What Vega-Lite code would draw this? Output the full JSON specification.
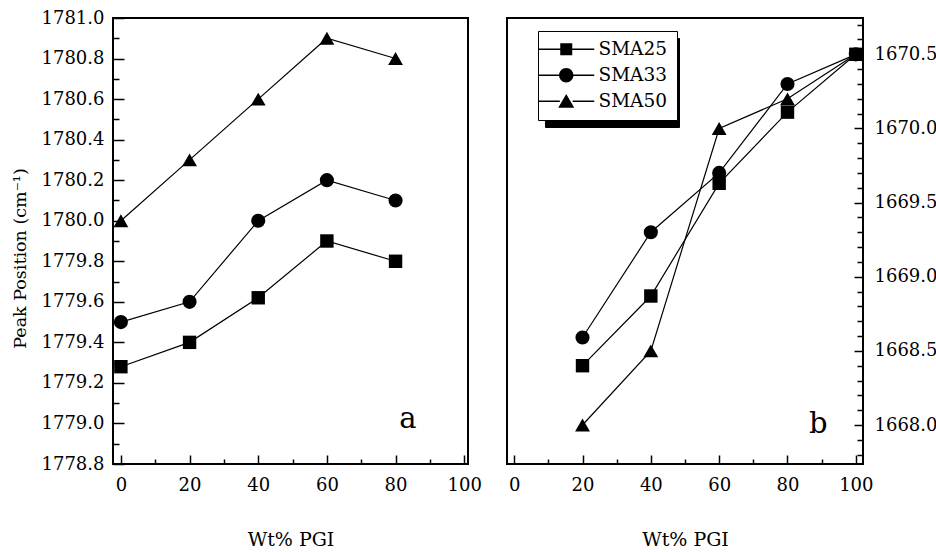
{
  "$schema": "https://vega.github.io/schema/vega-lite/v6.json",
  "padding": {"left": 10, "top": 8, "right": 0, "bottom": 0},
  "background": "white",
  "datasets": {
    "panelA": [
      {"series": "SMA25", "wt": 0, "pos": 1779.28},
      {"series": "SMA25", "wt": 20, "pos": 1779.40},
      {"series": "SMA25", "wt": 40, "pos": 1779.62},
      {"series": "SMA25", "wt": 60, "pos": 1779.90},
      {"series": "SMA25", "wt": 80, "pos": 1779.80},
      {"series": "SMA33", "wt": 0, "pos": 1779.50},
      {"series": "SMA33", "wt": 20, "pos": 1779.60},
      {"series": "SMA33", "wt": 40, "pos": 1780.00},
      {"series": "SMA33", "wt": 60, "pos": 1780.20},
      {"series": "SMA33", "wt": 80, "pos": 1780.10},
      {"series": "SMA50", "wt": 0, "pos": 1780.00},
      {"series": "SMA50", "wt": 20, "pos": 1780.30},
      {"series": "SMA50", "wt": 40, "pos": 1780.60},
      {"series": "SMA50", "wt": 60, "pos": 1780.90},
      {"series": "SMA50", "wt": 80, "pos": 1780.80}
    ],
    "panelB": [
      {"series": "SMA25", "wt": 20, "pos": 1668.40},
      {"series": "SMA25", "wt": 40, "pos": 1668.87},
      {"series": "SMA25", "wt": 60, "pos": 1669.63},
      {"series": "SMA25", "wt": 80, "pos": 1670.11},
      {"series": "SMA25", "wt": 100, "pos": 1670.50},
      {"series": "SMA33", "wt": 20, "pos": 1668.59},
      {"series": "SMA33", "wt": 40, "pos": 1669.30},
      {"series": "SMA33", "wt": 60, "pos": 1669.70},
      {"series": "SMA33", "wt": 80, "pos": 1670.30},
      {"series": "SMA33", "wt": 100, "pos": 1670.50},
      {"series": "SMA50", "wt": 20, "pos": 1668.00},
      {"series": "SMA50", "wt": 40, "pos": 1668.50},
      {"series": "SMA50", "wt": 60, "pos": 1670.00},
      {"series": "SMA50", "wt": 80, "pos": 1670.20},
      {"series": "SMA50", "wt": 100, "pos": 1670.50}
    ],
    "labelA": [{"label": "a"}],
    "labelB": [{"label": "b"}]
  },
  "spacing": 39,
  "bounds": "flush",
  "hconcat": [
    {
      "width": 355,
      "height": 446,
      "layer": [
        {
          "data": {"name": "panelA"},
          "mark": {"type": "line", "color": "black", "strokeWidth": 1.2},
          "encoding": {
            "x": {
              "field": "wt", "type": "quantitative",
              "scale": {"domain": [-2.3, 101.1], "nice": false, "zero": false},
              "axis": {"title": "Wt% PGI", "values": [0, 10, 20, 30, 40, 50, 60, 70, 80, 90, 100], "labelExpr": "datum.value % 20 == 0 ? datum.label : ''", "tickSize": {"condition": {"test": "datum.value % 20 == 0", "value": -9}, "value": -5}, "labelPadding": 21, "titlePadding": 36, "labelFlush": false}
            },
            "y": {
              "field": "pos", "type": "quantitative",
              "scale": {"domain": [1778.8, 1781.0], "nice": false, "zero": false},
              "axis": {"title": "Peak Position (cm⁻¹)", "values": [1778.8, 1778.9, 1779.0, 1779.1, 1779.2, 1779.3, 1779.4, 1779.5, 1779.6, 1779.7, 1779.8, 1779.9, 1780.0, 1780.1, 1780.2, 1780.3, 1780.4, 1780.5, 1780.6, 1780.7, 1780.8, 1780.9, 1781.0], "labelExpr": "round(datum.value * 10) % 2 == 0 ? format(datum.value, '.1f') : ''", "tickSize": {"condition": {"test": "round(datum.value * 10) % 2 == 0", "value": -11}, "value": -6}, "labelPadding": 20, "titleX": -93, "titleY": 240, "titleBaseline": "middle", "titleAlign": "center", "titleFontSize": 17.5, "labelFlush": false}
            },
            "detail": {"field": "series", "type": "nominal"}
          }
        },
        {
          "data": {"name": "panelA"},
          "mark": {"type": "point", "filled": true, "color": "black", "opacity": 1},
          "encoding": {
            "x": {
              "field": "wt", "type": "quantitative",
              "axis": {"title": "Wt% PGI", "values": [0, 10, 20, 30, 40, 50, 60, 70, 80, 90, 100], "labelExpr": "datum.value % 20 == 0 ? datum.label : ''", "tickSize": {"condition": {"test": "datum.value % 20 == 0", "value": -9}, "value": -5}, "labelPadding": 21, "titlePadding": 36, "labelFlush": false}
            },
            "y": {
              "field": "pos", "type": "quantitative",
              "axis": {"title": "Peak Position (cm⁻¹)", "values": [1778.8, 1778.9, 1779.0, 1779.1, 1779.2, 1779.3, 1779.4, 1779.5, 1779.6, 1779.7, 1779.8, 1779.9, 1780.0, 1780.1, 1780.2, 1780.3, 1780.4, 1780.5, 1780.6, 1780.7, 1780.8, 1780.9, 1781.0], "labelExpr": "round(datum.value * 10) % 2 == 0 ? format(datum.value, '.1f') : ''", "tickSize": {"condition": {"test": "round(datum.value * 10) % 2 == 0", "value": -11}, "value": -6}, "labelPadding": 20, "titleX": -93, "titleY": 240, "titleBaseline": "middle", "titleAlign": "center", "titleFontSize": 17.5, "labelFlush": false}
            },
            "shape": {"field": "series", "type": "nominal", "scale": {"domain": ["SMA25", "SMA33", "SMA50"], "range": ["square", "circle", "triangle-up"]}, "legend": null},
            "size": {"field": "series", "type": "nominal", "scale": {"domain": ["SMA25", "SMA33", "SMA50"], "range": [180, 220, 290]}, "legend": null}
          }
        },
        {
          "data": {"name": "labelA"},
          "mark": {"type": "text", "font": "DejaVu Serif", "fontSize": 29, "color": "black", "baseline": "alphabetic", "align": "center"},
          "encoding": {
            "x": {
              "datum": 83.6,
              "axis": {"title": "Wt% PGI", "values": [0, 10, 20, 30, 40, 50, 60, 70, 80, 90, 100], "labelExpr": "datum.value % 20 == 0 ? datum.label : ''", "tickSize": {"condition": {"test": "datum.value % 20 == 0", "value": -9}, "value": -5}, "labelPadding": 21, "titlePadding": 36, "labelFlush": false}
            },
            "y": {
              "datum": 1778.978,
              "axis": {"title": "Peak Position (cm⁻¹)", "values": [1778.8, 1778.9, 1779.0, 1779.1, 1779.2, 1779.3, 1779.4, 1779.5, 1779.6, 1779.7, 1779.8, 1779.9, 1780.0, 1780.1, 1780.2, 1780.3, 1780.4, 1780.5, 1780.6, 1780.7, 1780.8, 1780.9, 1781.0], "labelExpr": "round(datum.value * 10) % 2 == 0 ? format(datum.value, '.1f') : ''", "tickSize": {"condition": {"test": "round(datum.value * 10) % 2 == 0", "value": -11}, "value": -6}, "labelPadding": 20, "titleX": -93, "titleY": 240, "titleBaseline": "middle", "titleAlign": "center", "titleFontSize": 17.5, "labelFlush": false}
            },
            "text": {"field": "label", "type": "nominal"}
          }
        }
      ]
    },
    {
      "width": 356,
      "height": 446,
      "layer": [
        {
          "data": {"name": "panelB"},
          "mark": {"type": "line", "color": "black", "strokeWidth": 1.2},
          "encoding": {
            "x": {
              "field": "wt", "type": "quantitative",
              "scale": {"domain": [-2.1, 102.1], "nice": false, "zero": false},
              "axis": {"title": "Wt% PGI", "values": [0, 10, 20, 30, 40, 50, 60, 70, 80, 90, 100], "labelExpr": "datum.value % 20 == 0 ? datum.label : ''", "tickSize": {"condition": {"test": "datum.value % 20 == 0", "value": -9}, "value": -5}, "labelPadding": 21, "titlePadding": 36, "labelFlush": false}
            },
            "y": {
              "field": "pos", "type": "quantitative",
              "scale": {"domain": [1667.737, 1670.745], "nice": false, "zero": false},
              "axis": {"orient": "right", "title": null, "values": [1667.8, 1667.9, 1668.0, 1668.1, 1668.2, 1668.3, 1668.4, 1668.5, 1668.6, 1668.7, 1668.8, 1668.9, 1669.0, 1669.1, 1669.2, 1669.3, 1669.4, 1669.5, 1669.6, 1669.7, 1669.8, 1669.9, 1670.0, 1670.1, 1670.2, 1670.3, 1670.4, 1670.5, 1670.6, 1670.7], "labelExpr": "round(datum.value * 10) % 5 == 0 ? format(datum.value, '.1f') : ''", "tickSize": {"condition": {"test": "round(datum.value * 10) % 5 == 0", "value": -9}, "value": -6}, "labelPadding": 20, "labelFlush": false}
            },
            "detail": {"field": "series", "type": "nominal"}
          }
        },
        {
          "data": {"name": "panelB"},
          "mark": {"type": "point", "filled": true, "color": "black", "opacity": 1},
          "encoding": {
            "x": {
              "field": "wt", "type": "quantitative",
              "axis": {"title": "Wt% PGI", "values": [0, 10, 20, 30, 40, 50, 60, 70, 80, 90, 100], "labelExpr": "datum.value % 20 == 0 ? datum.label : ''", "tickSize": {"condition": {"test": "datum.value % 20 == 0", "value": -9}, "value": -5}, "labelPadding": 21, "titlePadding": 36, "labelFlush": false}
            },
            "y": {
              "field": "pos", "type": "quantitative",
              "axis": {"orient": "right", "title": null, "values": [1667.8, 1667.9, 1668.0, 1668.1, 1668.2, 1668.3, 1668.4, 1668.5, 1668.6, 1668.7, 1668.8, 1668.9, 1669.0, 1669.1, 1669.2, 1669.3, 1669.4, 1669.5, 1669.6, 1669.7, 1669.8, 1669.9, 1670.0, 1670.1, 1670.2, 1670.3, 1670.4, 1670.5, 1670.6, 1670.7], "labelExpr": "round(datum.value * 10) % 5 == 0 ? format(datum.value, '.1f') : ''", "tickSize": {"condition": {"test": "round(datum.value * 10) % 5 == 0", "value": -9}, "value": -6}, "labelPadding": 20, "labelFlush": false}
            },
            "shape": {"field": "series", "type": "nominal", "scale": {"domain": ["SMA25", "SMA33", "SMA50"], "range": ["square", "circle", "triangle-up"]}, "legend": null},
            "size": {"field": "series", "type": "nominal", "scale": {"domain": ["SMA25", "SMA33", "SMA50"], "range": [180, 220, 290]}, "legend": null}
          }
        },
        {
          "data": {"name": "panelB"},
          "mark": {"type": "point", "filled": true, "color": "black", "opacity": 0},
          "encoding": {
            "x": {
              "field": "wt", "type": "quantitative",
              "axis": {"title": "Wt% PGI", "values": [0, 10, 20, 30, 40, 50, 60, 70, 80, 90, 100], "labelExpr": "datum.value % 20 == 0 ? datum.label : ''", "tickSize": {"condition": {"test": "datum.value % 20 == 0", "value": -9}, "value": -5}, "labelPadding": 21, "titlePadding": 36, "labelFlush": false}
            },
            "y": {
              "field": "pos", "type": "quantitative",
              "axis": {"orient": "right", "title": null, "values": [1667.8, 1667.9, 1668.0, 1668.1, 1668.2, 1668.3, 1668.4, 1668.5, 1668.6, 1668.7, 1668.8, 1668.9, 1669.0, 1669.1, 1669.2, 1669.3, 1669.4, 1669.5, 1669.6, 1669.7, 1669.8, 1669.9, 1670.0, 1670.1, 1670.2, 1670.3, 1670.4, 1670.5, 1670.6, 1670.7], "labelExpr": "round(datum.value * 10) % 5 == 0 ? format(datum.value, '.1f') : ''", "tickSize": {"condition": {"test": "round(datum.value * 10) % 5 == 0", "value": -9}, "value": -6}, "labelPadding": 20, "labelFlush": false}
            },
            "shape": {
              "field": "series", "type": "nominal",
              "scale": {"domain": ["SMA25", "SMA33", "SMA50"], "range": [
                "M-3.5,-0.08H-0.75V0.08H-3.5ZM0.75,-0.08H3.5V0.08H0.75ZM-0.75,-0.75H0.75V0.75H-0.75Z",
                "M-3.5,-0.08H-0.85V0.08H-3.5ZM0.85,-0.08H3.5V0.08H0.85ZM0.9,0A0.9,0.9,0,1,1,-0.9,0A0.9,0.9,0,1,1,0.9,0Z",
                "M-3.5,-0.08H-0.8V0.08H-3.5ZM0.8,-0.08H3.5V0.08H0.8ZM0,-0.9L1,0.8L-1,0.8Z"
              ]},
              "legend": {
                "orient": "none", "legendX": 38, "legendY": 20, "title": null,
                "labelExpr": "' '",
                "symbolSize": 256, "symbolFillColor": "black", "symbolStrokeColor": "black", "symbolStrokeWidth": 0, "symbolOpacity": 1, "symbolOffset": 10,
                "labelFont": "DejaVu Serif", "labelFontSize": 18.5, "labelColor": "black", "labelOffset": 87,
                "fillColor": "black", "strokeColor": "black", "padding": 9, "rowPadding": 7, "zindex": 1
              }
            }
          }
        },
        {
          "data": {"name": "panelB"},
          "mark": {"type": "point", "filled": true, "color": "black", "opacity": 0},
          "encoding": {
            "x": {
              "field": "wt", "type": "quantitative",
              "axis": {"title": "Wt% PGI", "values": [0, 10, 20, 30, 40, 50, 60, 70, 80, 90, 100], "labelExpr": "datum.value % 20 == 0 ? datum.label : ''", "tickSize": {"condition": {"test": "datum.value % 20 == 0", "value": -9}, "value": -5}, "labelPadding": 21, "titlePadding": 36, "labelFlush": false}
            },
            "y": {
              "field": "pos", "type": "quantitative",
              "axis": {"orient": "right", "title": null, "values": [1667.8, 1667.9, 1668.0, 1668.1, 1668.2, 1668.3, 1668.4, 1668.5, 1668.6, 1668.7, 1668.8, 1668.9, 1669.0, 1669.1, 1669.2, 1669.3, 1669.4, 1669.5, 1669.6, 1669.7, 1669.8, 1669.9, 1670.0, 1670.1, 1670.2, 1670.3, 1670.4, 1670.5, 1670.6, 1670.7], "labelExpr": "round(datum.value * 10) % 5 == 0 ? format(datum.value, '.1f') : ''", "tickSize": {"condition": {"test": "round(datum.value * 10) % 5 == 0", "value": -9}, "value": -6}, "labelPadding": 20, "labelFlush": false}
            },
            "shape": {
              "field": "series", "type": "nominal",
              "scale": {"domain": ["SMA25", "SMA33", "SMA50"], "range": [
                "M-3.5,-0.08H-0.75V0.08H-3.5ZM0.75,-0.08H3.5V0.08H0.75ZM-0.75,-0.75H0.75V0.75H-0.75Z",
                "M-3.5,-0.08H-0.85V0.08H-3.5ZM0.85,-0.08H3.5V0.08H0.85ZM0.9,0A0.9,0.9,0,1,1,-0.9,0A0.9,0.9,0,1,1,0.9,0Z",
                "M-3.5,-0.08H-0.8V0.08H-3.5ZM0.8,-0.08H3.5V0.08H0.8ZM0,-0.9L1,0.8L-1,0.8Z"
              ]},
              "legend": {
                "orient": "none", "legendX": 31, "legendY": 13, "title": null,
                "symbolSize": 256, "symbolFillColor": "black", "symbolStrokeColor": "black", "symbolStrokeWidth": 0, "symbolOpacity": 1, "symbolOffset": 10,
                "labelFont": "DejaVu Serif", "labelFontSize": 18.5, "labelColor": "black", "labelOffset": 23,
                "fillColor": "white", "strokeColor": "black", "padding": 9, "rowPadding": 7, "zindex": 2
              }
            }
          }
        },
        {
          "data": {"name": "labelB"},
          "mark": {"type": "text", "font": "DejaVu Serif", "fontSize": 29, "color": "black", "baseline": "alphabetic", "align": "center"},
          "encoding": {
            "x": {
              "datum": 89.0,
              "axis": {"title": "Wt% PGI", "values": [0, 10, 20, 30, 40, 50, 60, 70, 80, 90, 100], "labelExpr": "datum.value % 20 == 0 ? datum.label : ''", "tickSize": {"condition": {"test": "datum.value % 20 == 0", "value": -9}, "value": -5}, "labelPadding": 21, "titlePadding": 36, "labelFlush": false}
            },
            "y": {
              "datum": 1667.946,
              "axis": {"orient": "right", "title": null, "values": [1667.8, 1667.9, 1668.0, 1668.1, 1668.2, 1668.3, 1668.4, 1668.5, 1668.6, 1668.7, 1668.8, 1668.9, 1669.0, 1669.1, 1669.2, 1669.3, 1669.4, 1669.5, 1669.6, 1669.7, 1669.8, 1669.9, 1670.0, 1670.1, 1670.2, 1670.3, 1670.4, 1670.5, 1670.6, 1670.7], "labelExpr": "round(datum.value * 10) % 5 == 0 ? format(datum.value, '.1f') : ''", "tickSize": {"condition": {"test": "round(datum.value * 10) % 5 == 0", "value": -9}, "value": -6}, "labelPadding": 20, "labelFlush": false}
            },
            "text": {"field": "label", "type": "nominal"}
          }
        }
      ],
      "resolve": {"scale": {"shape": "independent"}}
    }
  ],
  "config": {
    "font": "DejaVu Serif",
    "view": {"stroke": "black", "strokeWidth": 2},
    "axis": {
      "domain": false, "grid": false,
      "labelFont": "DejaVu Serif", "labelFontSize": 18, "labelColor": "black",
      "tickColor": "black", "tickWidth": 1.5,
      "titleFont": "DejaVu Serif", "titleFontSize": 19, "titleFontWeight": "normal", "titleColor": "black"
    }
  }
}
